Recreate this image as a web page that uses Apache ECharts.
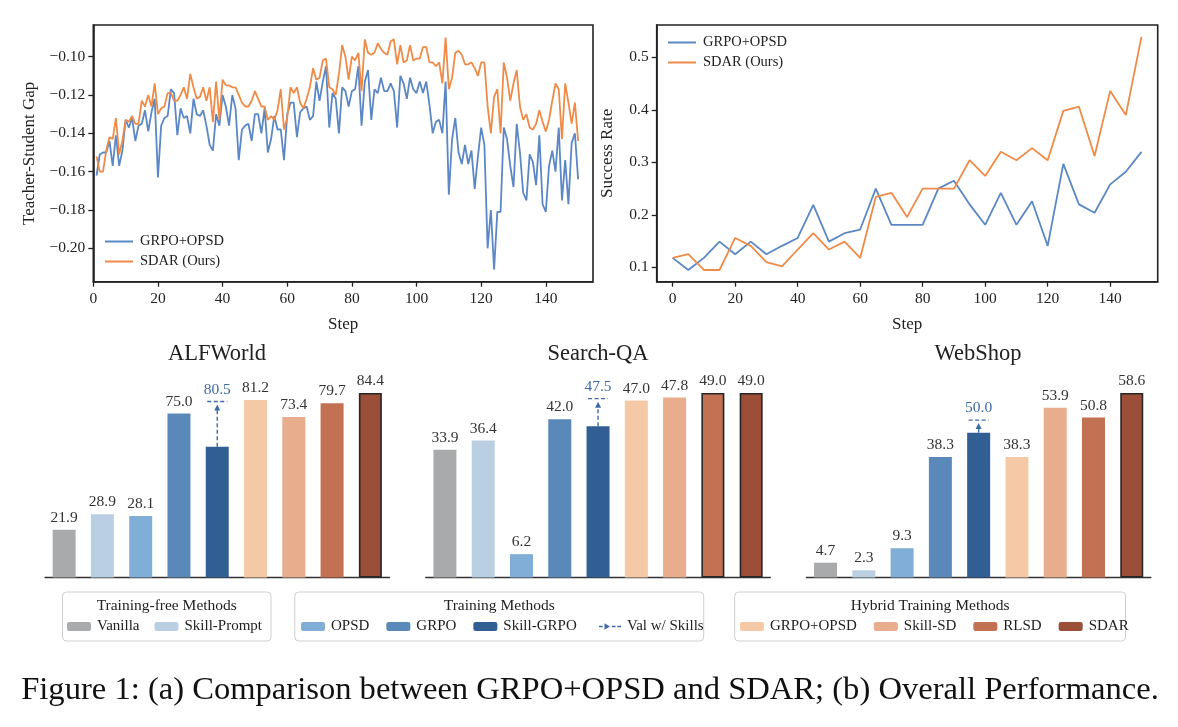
<!DOCTYPE html>
<html>
<head>
<meta charset="utf-8">
<script src="https://cdn.jsdelivr.net/npm/echarts@6.0.0/dist/echarts.min.js"></script>
<style>
  html, body { margin: 0; padding: 0; background: #fff; }
  #chart { width: 1178px; height: 727px; }
</style>
</head>
<body>
<div id="chart"></div>
<script>
  const FONT = "'Liberation Serif', 'DejaVu Serif', serif"
  const INK = '#222'
  const BLUE = '#5b87c5'
  const ORANGE = '#ef8b48'
  const VAL = '#3f6aa8'

  // (a) 左图：teacher-student gap，step 1..150
  const gapSteps = Array.from({ length: 150 }, (_, i) => i + 1)
  const gapGrpoOpsd = [
    -0.162, -0.151, -0.150, -0.150, -0.144, -0.157, -0.141, -0.157, -0.149, -0.133,
    -0.137, -0.132, -0.144, -0.136, -0.135, -0.128, -0.139, -0.129, -0.122, -0.163,
    -0.136, -0.132, -0.131, -0.117, -0.119, -0.141, -0.127, -0.132, -0.131, -0.140,
    -0.122, -0.130, -0.131, -0.128, -0.136, -0.146, -0.149, -0.130, -0.136, -0.120,
    -0.126, -0.136, -0.120, -0.127, -0.154, -0.138, -0.136, -0.135, -0.144, -0.130,
    -0.130, -0.140, -0.127, -0.150, -0.143, -0.131, -0.138, -0.138, -0.154, -0.130,
    -0.124, -0.124, -0.142, -0.129, -0.127, -0.126, -0.133, -0.131, -0.113, -0.123,
    -0.113, -0.105, -0.137, -0.119, -0.122, -0.140, -0.116, -0.118, -0.126, -0.118,
    -0.117, -0.105, -0.136, -0.113, -0.107, -0.133, -0.117, -0.119, -0.111, -0.118,
    -0.118, -0.114, -0.118, -0.137, -0.110, -0.114, -0.122, -0.111, -0.117, -0.119,
    -0.113, -0.119, -0.113, -0.125, -0.140, -0.134, -0.133, -0.140, -0.113, -0.172,
    -0.143, -0.132, -0.150, -0.156, -0.146, -0.156, -0.149, -0.169, -0.152, -0.137,
    -0.146, -0.200, -0.180, -0.211, -0.181, -0.181, -0.137, -0.143, -0.157, -0.168,
    -0.135, -0.150, -0.171, -0.175, -0.151, -0.155, -0.167, -0.141, -0.177, -0.181,
    -0.157, -0.149, -0.160, -0.137, -0.175, -0.154, -0.177, -0.145, -0.140, -0.164
  ]
  const gapSdar = [
    -0.152, -0.160, -0.160, -0.149, -0.142, -0.143, -0.132, -0.151, -0.144, -0.133,
    -0.134, -0.131, -0.135, -0.135, -0.123, -0.126, -0.120, -0.126, -0.114, -0.130,
    -0.127, -0.126, -0.119, -0.119, -0.123, -0.123, -0.120, -0.116, -0.122, -0.109,
    -0.116, -0.122, -0.121, -0.116, -0.123, -0.116, -0.134, -0.113, -0.133, -0.112,
    -0.115, -0.115, -0.116, -0.116, -0.120, -0.124, -0.126, -0.126, -0.123, -0.118,
    -0.122, -0.126, -0.126, -0.133, -0.131, -0.133, -0.128, -0.117, -0.138, -0.132,
    -0.116, -0.119, -0.116, -0.124, -0.127, -0.122, -0.116, -0.106, -0.112, -0.111,
    -0.102, -0.101, -0.116, -0.117, -0.120, -0.109, -0.094, -0.100, -0.112, -0.100,
    -0.102, -0.098, -0.118, -0.091, -0.098, -0.099, -0.098, -0.093, -0.096, -0.098,
    -0.099, -0.092, -0.091, -0.104, -0.094, -0.103, -0.102, -0.094, -0.102, -0.101,
    -0.101, -0.095, -0.095, -0.103, -0.103, -0.105, -0.103, -0.114, -0.090, -0.117,
    -0.111, -0.098, -0.097, -0.099, -0.104, -0.104, -0.103, -0.106, -0.110, -0.103,
    -0.103, -0.126, -0.140, -0.121, -0.117, -0.140, -0.103, -0.111, -0.123, -0.114,
    -0.107, -0.126, -0.133, -0.130, -0.137, -0.138, -0.135, -0.128, -0.134, -0.139,
    -0.133, -0.123, -0.114, -0.117, -0.143, -0.114, -0.124, -0.135, -0.124, -0.144
  ]
  const gapTicks = [-0.2, -0.18, -0.16, -0.14, -0.12, -0.1]
  const stepTicks = [0, 20, 40, 60, 80, 100, 120, 140]

  // (a) 右图：success rate
  const rateSteps = [0, 5, 10, 15, 20, 25, 30, 35, 40, 45, 50, 55, 60, 65, 70, 75,
    80, 85, 90, 95, 100, 105, 110, 115, 120, 125, 130, 135, 140, 145, 150]
  const rateGrpoOpsd = [0.118, 0.095, 0.118, 0.149, 0.125, 0.149, 0.125, 0.141, 0.156, 0.219,
    0.149, 0.165, 0.172, 0.250, 0.181, 0.181, 0.181, 0.250, 0.265, 0.220,
    0.181, 0.242, 0.181, 0.226, 0.141, 0.297, 0.220, 0.204, 0.258, 0.282, 0.320]
  const rateSdar = [0.118, 0.125, 0.095, 0.095, 0.156, 0.141, 0.110, 0.102, 0.134, 0.165,
    0.134, 0.149, 0.118, 0.234, 0.242, 0.196, 0.250, 0.250, 0.250, 0.304,
    0.274, 0.320, 0.304, 0.327, 0.304, 0.398, 0.406, 0.312, 0.436, 0.390, 0.539]
  const rateTicks = [0.1, 0.2, 0.3, 0.4, 0.5]

  // (b) 柱状图
  const methods = ['Vanilla', 'Skill-Prompt', 'OPSD', 'GRPO', 'Skill-GRPO',
    'GRPO+OPSD', 'Skill-SD', 'RLSD', 'SDAR']
  const methodColors = ['#a9aaac', '#bad0e2', '#80aed6', '#5a89b9', '#315f93',
    '#f5c9a5', '#e8ad8c', '#c27153', '#9b4f38']
  const benchNames = ['ALFWorld', 'Search-QA', 'WebShop']
  const alfworldScores = [21.9, 28.9, 28.1, 75.0, 59.8, 81.2, 73.4, 79.7, 84.4]
  const searchQaScores = [33.9, 36.4, 6.2, 42.0, 40.2, 47.0, 47.8, 49.0, 49.0]
  const webShopScores = [4.7, 2.3, 9.3, 38.3, 46.0, 38.3, 53.9, 50.8, 58.6]
  const skillValScores = [80.5, 47.5, 50.0]
  const benchScores = [alfworldScores, searchQaScores, webShopScores]
  const skillIdx = methods.indexOf('Skill-GRPO')

  const legendTitles = ['Training-free Methods', 'Training Methods', 'Hybrid Training Methods']
  const legendItems = [
    ['Vanilla', 'Skill-Prompt'],
    ['OPSD', 'GRPO', 'Skill-GRPO'],
    ['GRPO+OPSD', 'Skill-SD', 'RLSD', 'SDAR']
  ]

  // 布局
  const barGridLeft = [45, 425.8, 806.4]
  const benchTitleX = [217, 598, 978]
  const legendBoxes = [[62.5, 271], [294.8, 703.7], [734.7, 1125.5]]
  const legendLeft = [67, 301, 740]

  const tickFont = { fontFamily: FONT, fontSize: 15.5, color: INK }
  const minus = (v) => (v < 0 ? '\u2212' : '') + Math.abs(v).toFixed(2)

  const lineAxisBase = {
    type: 'value',
    axisLine: { show: true, onZero: false, lineStyle: { color: INK, width: 1.6 } },
    axisTick: { show: true, length: 5, lineStyle: { color: INK, width: 1.3 } },
    splitLine: { show: false },
    nameLocation: 'middle',
    nameTextStyle: { fontFamily: FONT, fontSize: 17, color: INK }
  }

  const chart = echarts.init(document.getElementById('chart'))

  const series = [
    {
      type: 'line', name: 'L|GRPO+OPSD', xAxisIndex: 0, yAxisIndex: 0,
      data: gapSteps.map((s, i) => [s, gapGrpoOpsd[i]]),
      symbol: 'none', lineStyle: { color: BLUE, width: 1.8 }, itemStyle: { color: BLUE }
    },
    {
      type: 'line', name: 'L|SDAR (Ours)', xAxisIndex: 0, yAxisIndex: 0,
      data: gapSteps.map((s, i) => [s, gapSdar[i]]),
      symbol: 'none', lineStyle: { color: ORANGE, width: 1.8 }, itemStyle: { color: ORANGE }
    },
    {
      type: 'line', name: 'L|GRPO+OPSD', xAxisIndex: 1, yAxisIndex: 1,
      data: rateSteps.map((s, i) => [s, rateGrpoOpsd[i]]),
      symbol: 'none', lineStyle: { color: BLUE, width: 1.8 }, itemStyle: { color: BLUE }
    },
    {
      type: 'line', name: 'L|SDAR (Ours)', xAxisIndex: 1, yAxisIndex: 1,
      data: rateSteps.map((s, i) => [s, rateSdar[i]]),
      symbol: 'none', lineStyle: { color: ORANGE, width: 1.8 }, itemStyle: { color: ORANGE }
    }
  ]

  benchScores.forEach((scores, b) => {
    const best = Math.max(...scores)
    methods.forEach((m, k) => {
      series.push({
        type: 'bar',
        name: m,
        xAxisIndex: 2 + b,
        yAxisIndex: 2 + b,
        barWidth: 23,
        barGap: '-100%',
        itemStyle: { color: methodColors[k] },
        label: {
          show: k !== skillIdx,
          position: 'top',
          distance: 4,
          fontFamily: FONT,
          fontSize: 15.5,
          color: '#333',
          formatter: (p) => Number(p.value).toFixed(1)
        },
        data: scores.map((v, i) => {
          if (i !== k) return '-'
          return v === best
            ? { value: v, itemStyle: { borderColor: '#262626', borderWidth: 1.6 } }
            : v
        })
      })
    })
    series.push({
      type: 'custom',
      name: 'Val w/ Skills',
      xAxisIndex: 2 + b,
      yAxisIndex: 2 + b,
      itemStyle: { color: VAL },
      data: [[skillIdx, scores[skillIdx], skillValScores[b]]],
      renderItem: (params, api) => {
        const base = api.coord([api.value(0), api.value(1)])
        const tip = api.coord([api.value(0), api.value(2)])
        const dash = { stroke: VAL, lineWidth: 1.4, lineDash: [4, 2.5] }
        return {
          type: 'group',
          children: [
            { type: 'line', shape: { x1: tip[0] - 10, y1: tip[1], x2: tip[0] + 10, y2: tip[1] }, style: dash },
            { type: 'line', shape: { x1: base[0], y1: base[1], x2: base[0], y2: tip[1] + 8 }, style: dash },
            {
              type: 'polygon',
              shape: { points: [[tip[0] - 3, tip[1] + 9], [tip[0] + 3, tip[1] + 9], [tip[0], tip[1] + 3]] },
              style: { fill: VAL }
            },
            {
              type: 'text', x: tip[0], y: tip[1] - 4,
              style: {
                text: api.value(2).toFixed(1), fill: VAL, font: `15.5px ${FONT}`,
                align: 'center', verticalAlign: 'bottom', textAlign: 'center', textVerticalAlign: 'bottom'
              }
            }
          ]
        }
      }
    })
  })

  const graphic = []
  benchNames.forEach((n, b) => {
    graphic.push({
      type: 'text', x: benchTitleX[b], y: 354,
      style: { text: n, fill: INK, font: `22.5px ${FONT}`, align: 'center', verticalAlign: 'middle', textAlign: 'center', textVerticalAlign: 'middle' }
    })
  })
  legendBoxes.forEach(([x0, x1], g) => {
    graphic.push({
      type: 'rect', z: -1,
      shape: { x: x0, y: 592, width: x1 - x0, height: 49, r: 4 },
      style: { fill: 'none', stroke: '#cfcfcf', lineWidth: 1 }
    })
    graphic.push({
      type: 'text', x: (x0 + x1) / 2, y: 606,
      style: { text: legendTitles[g], fill: INK, font: `15.5px ${FONT}`, align: 'center', verticalAlign: 'middle', textAlign: 'center', textVerticalAlign: 'middle' }
    })
  })
  graphic.push({
    type: 'text', x: 590, y: 690,
    style: {
      text: 'Figure 1: (a) Comparison between GRPO+OPSD and SDAR; (b) Overall Performance.',
      fill: '#111', font: `32.6px ${FONT}`, align: 'center', verticalAlign: 'middle', textAlign: 'center', textVerticalAlign: 'middle'
    }
  })

  const bottomLegend = (data, left, gap) => ({
    data, left, top: 619, padding: 0, itemGap: gap, itemWidth: 24, itemHeight: 9,
    selectedMode: false,
    textStyle: { fontFamily: FONT, fontSize: 15, color: INK, padding: [0, 0, 0, 1] }
  })

  const lineLegend = (left, top) => ({
    data: [
      { name: 'L|GRPO+OPSD', icon: 'rect' },
      { name: 'L|SDAR (Ours)', icon: 'rect' }
    ],
    left, top, orient: 'vertical', padding: 0,
    itemWidth: 28, itemHeight: 2, itemGap: 5, selectedMode: false,
    formatter: (n) => n.split('|')[1],
    textStyle: { fontFamily: FONT, fontSize: 14.5, color: INK, padding: [0, 0, 0, 2] }
  })

  chart.setOption({
    animation: false,
    backgroundColor: '#fff',
    textStyle: { fontFamily: FONT },
    grid: [
      { left: 93.3, top: 25, width: 499.7, height: 256.7, show: true, borderColor: INK, borderWidth: 1.6, backgroundColor: 'transparent' },
      { left: 656.7, top: 25, width: 501, height: 256.7, show: true, borderColor: INK, borderWidth: 1.6, backgroundColor: 'transparent' },
      ...barGridLeft.map((l) => ({ left: l, top: 393, width: 344.5, height: 184.5 }))
    ],
    xAxis: [
      {
        ...lineAxisBase, gridIndex: 0, min: 0, max: 154.6, name: 'Step', nameGap: 34,
        axisTick: { ...lineAxisBase.axisTick, customValues: stepTicks },
        axisLabel: { ...tickFont, margin: 9, customValues: stepTicks }
      },
      {
        ...lineAxisBase, gridIndex: 1, min: -5.1, max: 155.2, name: 'Step', nameGap: 34,
        axisTick: { ...lineAxisBase.axisTick, customValues: stepTicks },
        axisLabel: { ...tickFont, margin: 9, customValues: stepTicks }
      },
      ...barGridLeft.map((_, b) => ({
        type: 'category', gridIndex: 2 + b, data: methods,
        axisLine: { show: true, lineStyle: { color: '#333', width: 1.3 } },
        axisTick: { show: false }, axisLabel: { show: false }
      }))
    ],
    yAxis: [
      {
        ...lineAxisBase, gridIndex: 0, min: -0.2174, max: -0.0835, name: 'Teacher-Student Gap', nameGap: 55,
        axisTick: { ...lineAxisBase.axisTick, customValues: gapTicks },
        axisLabel: { ...tickFont, margin: 8, customValues: gapTicks, formatter: minus }
      },
      {
        ...lineAxisBase, gridIndex: 1, min: 0.0727, max: 0.5615, name: 'Success Rate', nameGap: 41,
        axisTick: { ...lineAxisBase.axisTick, customValues: rateTicks },
        axisLabel: { ...tickFont, margin: 8, customValues: rateTicks, formatter: (v) => v.toFixed(1) }
      },
      ...benchScores.map((scores, b) => ({
        type: 'value', gridIndex: 2 + b, min: 0, max: Math.max(...scores), show: false
      }))
    ],
    legend: [
      lineLegend(105, 234),
      lineLegend(668, 35),
      bottomLegend(legendItems[0], legendLeft[0], 15),
      bottomLegend(legendItems[1], legendLeft[1], 17),
      {
        ...bottomLegend([{ name: 'Val w/ Skills', icon: 'path://M0,3.3h4v1.4h-4z M6,0.5l6,3.5 -6,3.5z M14,3.3h4v1.4h-4z M20,3.3h4v1.4h-4z' }], 599, 0),
        itemWidth: 22, itemHeight: 7
      },
      bottomLegend(legendItems[2], legendLeft[2], 17)
    ],
    graphic,
    series
  })
</script>
</body>
</html>
